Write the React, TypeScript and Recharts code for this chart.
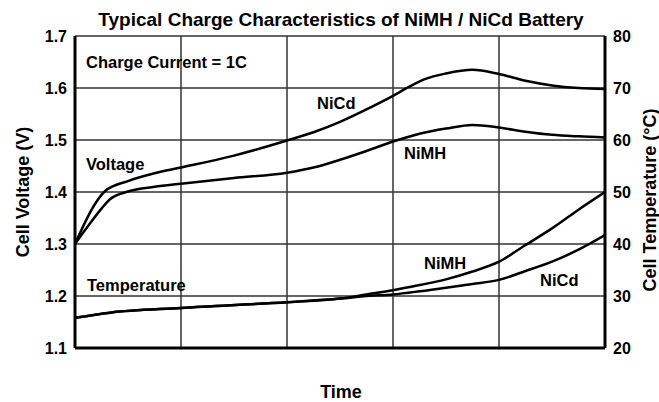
import React from "react";
import { LineChart, Line, XAxis, YAxis, CartesianGrid } from "recharts";

const timeNiCdV = [0, 0.57, 1.0, 1.5, 2.0, 3.0, 4.0, 4.5, 5.0, 5.5, 6.0, 6.3, 6.6, 7.0, 7.5, 8.0, 8.5, 9.0, 9.5, 10];
const nicdVoltage = [1.3, 1.402, 1.421, 1.436, 1.447, 1.47, 1.499, 1.515, 1.535, 1.559, 1.585, 1.602, 1.617, 1.628, 1.635, 1.627, 1.614, 1.605, 1.6, 1.598];

const timeNiMHV = [0, 0.25, 0.5, 0.66, 1.0, 1.5, 2.0, 3.0, 4.0, 4.5, 5.0, 5.5, 6.0, 6.5, 7.0, 7.5, 8.0, 8.5, 9.0, 9.5, 10];
const nimhVoltage = [1.3, 1.335, 1.368, 1.386, 1.401, 1.41, 1.416, 1.427, 1.437, 1.447, 1.462, 1.479, 1.497, 1.512, 1.522, 1.529, 1.524, 1.516, 1.51, 1.507, 1.505];

const timeTemp = [0, 0.66, 2.0, 4.0, 5.0, 5.5, 6.0, 6.5, 7.0, 7.5, 8.0, 8.5, 9.0, 9.5, 10];
const nimhTemp = [25.8, 26.8, 27.7, 28.8, 29.5, 30.3, 31.1, 32.1, 33.2, 34.7, 36.6, 39.8, 43.0, 46.6, 50.0];
const nicdTemp = [25.8, 26.8, 27.7, 28.8, 29.5, 30.0, 30.3, 30.9, 31.6, 32.3, 33.1, 34.8, 36.6, 38.9, 41.7];

const timeTicks = [0, 2, 4, 6, 8, 10];
const voltTicks = [1.1, 1.2, 1.3, 1.4, 1.5, 1.6, 1.7];
const tempTicks = [20, 30, 40, 50, 60, 70, 80];

const toPts = (xs: number[], ys: number[]) => xs.map((t, i) => ({ t, v: ys[i] }));

const FONT = "'Liberation Sans', Arial, Helvetica, sans-serif";

const NoTick = () => <g />;

export default function App() {
  const tickStyle = { fill: "#000", fontSize: 16, fontWeight: 700, fontFamily: FONT };
  const lineProps = {
    type: "monotone" as const,
    dataKey: "v",
    stroke: "#000",
    strokeWidth: 2.5,
    dot: false,
    activeDot: false,
    isAnimationActive: false,
  };
  const txt = { fontFamily: FONT, fontWeight: 700, fill: "#000" } as const;
  return (
    <div style={{ position: "absolute", left: 0, top: 0, width: 659, height: 402, background: "#fff" }}>
      <LineChart width={659} height={402} margin={{ top: 36, right: 14, bottom: 24, left: 35 }}>
        <CartesianGrid xAxisId="b" yAxisId="v" stroke="#333" strokeWidth={1.5} strokeOpacity={1} />
        <XAxis
          xAxisId="b"
          type="number"
          dataKey="t"
          domain={[0, 10]}
          ticks={timeTicks}
          tick={NoTick}
          tickLine={false}
          axisLine={{ stroke: "#000", strokeWidth: 3 }}
          height={30}
          allowDataOverflow
        />
        <XAxis
          xAxisId="top"
          orientation="top"
          type="number"
          dataKey="t"
          domain={[0, 10]}
          ticks={timeTicks}
          tick={NoTick}
          tickLine={false}
          axisLine={{ stroke: "#000", strokeWidth: 2.5 }}
          height={0}
        />
        <YAxis
          yAxisId="v"
          type="number"
          domain={[1.1, 1.7]}
          ticks={voltTicks}
          tickFormatter={(v: number) => v.toFixed(1)}
          tick={tickStyle}
          tickLine={false}
          axisLine={{ stroke: "#000", strokeWidth: 3 }}
          width={40}
          allowDataOverflow
        />
        <YAxis
          yAxisId="c"
          orientation="right"
          type="number"
          domain={[20, 80]}
          ticks={tempTicks}
          tick={{ ...tickStyle, textAnchor: "start" }}
          tickLine={false}
          axisLine={{ stroke: "#000", strokeWidth: 3 }}
          width={40}
          allowDataOverflow
        />
        <Line {...lineProps} xAxisId="b" yAxisId="v" data={toPts(timeNiCdV, nicdVoltage)} name="NiCd Voltage" />
        <Line {...lineProps} xAxisId="b" yAxisId="v" data={toPts(timeNiMHV, nimhVoltage)} name="NiMH Voltage" />
        <Line {...lineProps} xAxisId="b" yAxisId="c" data={toPts(timeTemp, nimhTemp)} name="NiMH Temperature" />
        <Line {...lineProps} xAxisId="b" yAxisId="c" data={toPts(timeTemp, nicdTemp)} name="NiCd Temperature" />
      </LineChart>
      <svg width={659} height={402} style={{ position: "absolute", left: 0, top: 0, pointerEvents: "none" }}>
        <text x={341} y={26} textAnchor="middle" fontSize={19} {...txt}>
          Typical Charge Characteristics of NiMH / NiCd Battery
        </text>
        <text x={86} y={68} fontSize={16.5} {...txt}>Charge Current = 1C</text>
        <text x={86} y={170} fontSize={16.5} {...txt}>Voltage</text>
        <text x={87} y={291} fontSize={16.5} {...txt}>Temperature</text>
        <text x={317} y={109} fontSize={16.5} {...txt}>NiCd</text>
        <text x={404} y={159} fontSize={16.5} {...txt}>NiMH</text>
        <text x={424} y={269} fontSize={16.5} {...txt}>NiMH</text>
        <text x={540} y={286} fontSize={16.5} {...txt}>NiCd</text>
        <text x={341} y={398} textAnchor="middle" fontSize={18} {...txt}>Time</text>
        <text x={0} y={0} textAnchor="middle" fontSize={18} {...txt} transform="translate(29,192) rotate(-90)">
          Cell Voltage (V)
        </text>
        <text x={0} y={0} textAnchor="middle" fontSize={18} {...txt} transform="translate(656,200) rotate(-90)">
          Cell Temperature (°C)
        </text>
      </svg>
    </div>
  );
}
